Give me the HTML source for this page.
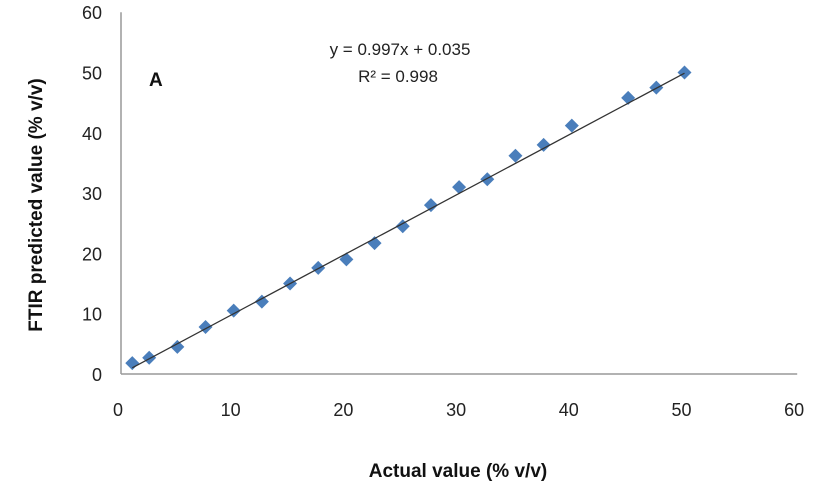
<!DOCTYPE html>
<html><head><meta charset="utf-8"><style>
body{margin:0;background:#fff;}
svg{display:block;font-family:"Liberation Sans",Arial,sans-serif;}
</style></head><body>
<svg width="817" height="495">
<g id="axes"></g>
<g id="marks"></g>
<text x="400" y="55" font-size="17" text-anchor="middle" fill="#222">y = 0.997x + 0.035</text>
<text x="398" y="82" font-size="17" text-anchor="middle" fill="#222">R² = 0.998</text>
<text x="149" y="86" font-size="19" font-weight="bold" fill="#111">A</text>
<text x="458" y="477" font-size="19" font-weight="bold" text-anchor="middle" fill="#111">Actual value (% v/v)</text>
<text transform="translate(42,205) rotate(-90)" font-size="19" font-weight="bold" text-anchor="middle" fill="#111">FTIR predicted value (% v/v)</text>
</svg>
<script>
const xTicks=[0,10,20,30,40,50,60];
const yTicks=[0,10,20,30,40,50,60];
const actual=[1,2.5,5,7.5,10,12.5,15,17.5,20,22.5,25,27.5,30,32.5,35,37.5,40,45,47.5,50];
const predicted=[1.8,2.7,4.5,7.8,10.5,12,15,17.6,19,21.7,24.5,28,31,32.3,36.2,38,41.2,45.8,47.5,50];
const slope=0.997, intercept=0.035;
const NS="http://www.w3.org/2000/svg";
const X=v=>121+v*11.27, Y=v=>374-v*6.03;
const axes=document.getElementById('axes'), marks=document.getElementById('marks');
function mk(tag,attrs,parent){const e=document.createElementNS(NS,tag);for(const k in attrs)e.setAttribute(k,attrs[k]);parent.appendChild(e);return e;}
let a=mk('line',{x1:X(0),y1:Y(60),x2:X(0),y2:Y(0),stroke:'#999','stroke-width':1.5},axes);


a=mk('line',{x1:X(0),y1:Y(0),x2:X(60),y2:Y(0),stroke:'#999','stroke-width':1.5},axes);


xTicks.forEach(t=>{const e=mk('text',{x:X(t)-3,y:416,'font-size':18,'text-anchor':'middle',fill:'#222'},axes);e.textContent=t;

});
yTicks.forEach(t=>{const e=mk('text',{x:102,y:Y(t)+7,'font-size':18,'text-anchor':'end',fill:'#222'},axes);e.textContent=t;

});
const x0=actual[0], x1=actual[actual.length-1];
const tl=mk('line',{x1:X(x0),y1:Y(slope*x0+intercept),x2:X(x1),y2:Y(slope*x1+intercept),stroke:'#333','stroke-width':1.3},marks);


actual.forEach((v,i)=>{const cx=X(v),cy=Y(predicted[i]),r=7;
const p=mk('polygon',{points:`${cx},${cy-r} ${cx+r},${cy} ${cx},${cy+r} ${cx-r},${cy}`,fill:'#4a7ebb'},marks);

});
marks.appendChild(tl);
</script>
</body></html>
